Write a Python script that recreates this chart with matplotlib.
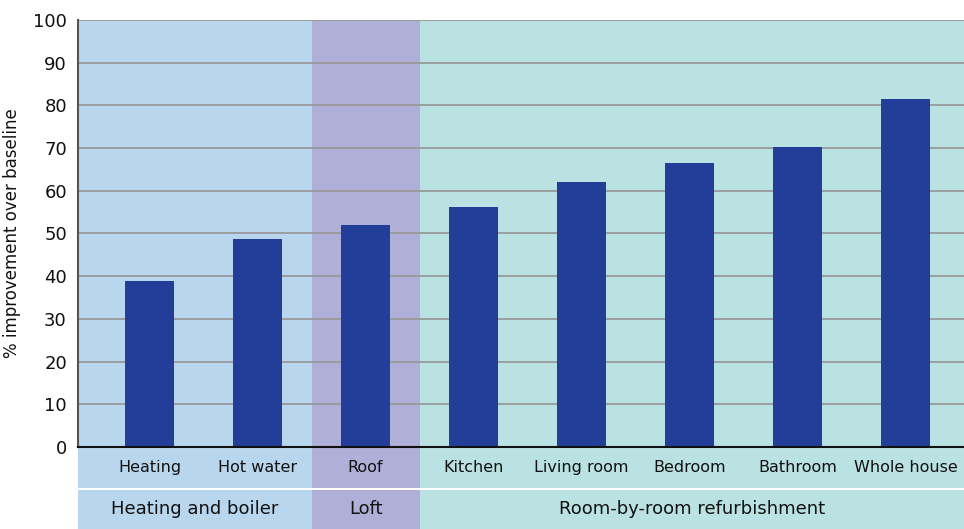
import matplotlib
matplotlib.use("Agg")
import matplotlib.pyplot as plt
from matplotlib.patches import Rectangle
import matplotlib.transforms as mtransforms

plt.rcParams['font.family'] = ['DejaVu Sans']

categories = ["Heating", "Hot water", "Roof", "Kitchen", "Living room",
              "Bedroom", "Bathroom", "Whole house"]
values = [38.8, 48.8, 52.1, 56.1, 62.1, 66.6, 70.3, 81.6]
groups = ["Heating and boiler", "Loft", "Room-by-room refurbishment"]
group_spans = [(0, 1), (2, 2), (3, 7)]  # first and last category index
group_colors = ["#B8D6EE", "#B0AFD8", "#BAE2E2"]
y_ticks = [0, 10, 20, 30, 40, 50, 60, 70, 80, 90, 100]
y_label = "% improvement over baseline"

bar_color = "#223E98"
grid_color = "#999999"
text_color = "#111111"

fig = plt.figure(figsize=(9.64, 5.29), dpi=100)
ax = fig.add_axes([78/964, 82/529, 886/964, 427/529])

xmin, xmax = -0.662, 7.54
ax.set_xlim(xmin, xmax)
ax.set_ylim(0, 100)

# background spans
for (a, b), c in zip(group_spans, group_colors):
    lo = xmin if a == 0 else a - 0.5
    hi = xmax if b == len(categories) - 1 else b + 0.5
    ax.axvspan(lo, hi, color=c, zorder=0, lw=0)

# gridlines
for t in y_ticks[1:]:
    ax.axhline(t, color=grid_color, lw=1.3, zorder=1)

x = list(range(len(categories)))
ax.bar(x, values, width=0.45, color=bar_color, zorder=2)

ax.set_yticks(y_ticks)
ax.set_yticklabels([str(t) for t in y_ticks], fontsize=13, color=text_color)
ax.tick_params(axis='y', length=0, pad=8)
ax.set_xticks([])
ax.set_ylabel(y_label, fontsize=12, labelpad=9, color=text_color)

for s in ['top', 'right']:
    ax.spines[s].set_visible(False)
ax.spines['left'].set_color('#555555')
ax.spines['left'].set_linewidth(1.5)
ax.spines['bottom'].set_color('#111111')
ax.spines['bottom'].set_linewidth(1.5)
ax.spines['left'].set_zorder(3)
ax.spines['bottom'].set_zorder(3)

trans = mtransforms.blended_transform_factory(ax.transData, ax.transAxes)
row1_top, row1_bot = 0.0, -41/427
row2_top, row2_bot = -43/427, -82/427

for (a, b), c, g in zip(group_spans, group_colors, groups):
    lo = xmin if a == 0 else a - 0.5
    hi = xmax if b == len(categories) - 1 else b + 0.5
    ax.add_patch(Rectangle((lo, row1_bot), hi - lo, row1_top - row1_bot,
                           transform=trans, color=c, lw=0, clip_on=False, zorder=0))
    ax.add_patch(Rectangle((lo, row2_bot), hi - lo, row2_top - row2_bot,
                           transform=trans, color=c, lw=0, clip_on=False, zorder=0))
    ax.text((lo + hi) / 2, (row2_top + row2_bot) / 2, g, transform=trans,
            ha='center', va='center', fontsize=13, color=text_color)

for i, cat in enumerate(categories):
    ax.text(i, (row1_top + row1_bot) / 2, cat, transform=trans,
            ha='center', va='center', fontsize=11.5, color=text_color)

fig.savefig("out.png", dpi=100)
